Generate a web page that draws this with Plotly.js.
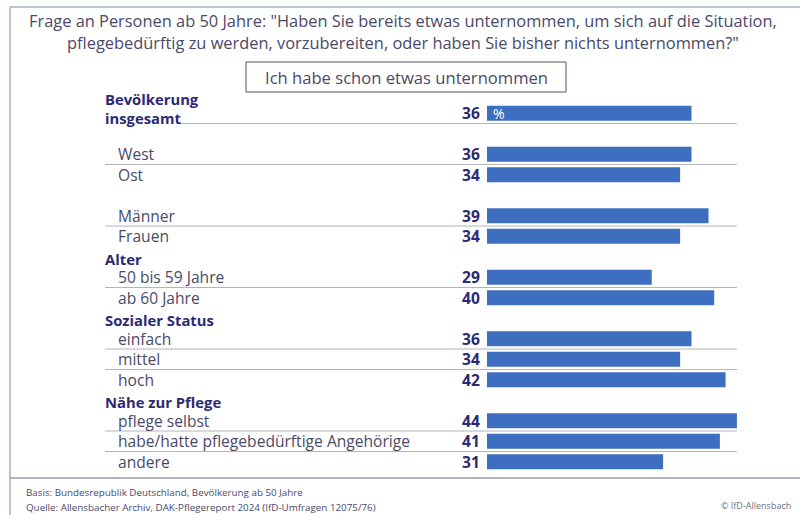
<!DOCTYPE html>
<html>
<head>
<meta charset="utf-8">
<script src="https://cdn.plot.ly/plotly-3.0.1.min.js"></script>
<style>html,body{margin:0;padding:0;background:#fff;}#chart{width:800px;height:515px;}</style>
</head>
<body>
<div id="chart"></div>
<script>
// ---- data ----
const categories = ["Bevölkerung insgesamt", "West", "Ost", "Männer", "Frauen",
  "50 bis 59 Jahre", "ab 60 Jahre", "einfach", "mittel", "hoch",
  "pflege selbst", "habe/hatte pflegebedürftige Angehörige", "andere"];
const values = [36, 36, 34, 39, 34, 29, 40, 36, 34, 42, 44, 41, 31];
const groups = ["Bevölkerung insgesamt", "Region", "Region", "Geschlecht", "Geschlecht",
  "Alter", "Alter", "Sozialer Status", "Sozialer Status", "Sozialer Status",
  "Nähe zur Pflege", "Nähe zur Pflege", "Nähe zur Pflege"];
const headedGroups = ["Alter", "Sozialer Status", "Nähe zur Pflege"];
const titleLines = ["Frage an Personen ab 50 Jahre: \"Haben Sie bereits etwas unternommen, um sich auf die Situation,",
  "pflegebedürftig zu werden, vorzubereiten, oder haben Sie bisher nichts unternommen?\""];
const seriesName = "Ich habe schon etwas unternommen";
const unitLabel = "%";
const footerLines = ["Basis: Bundesrepublik Deutschland, Bevölkerung ab 50 Jahre",
  "Quelle: Allensbacher Archiv, DAK-Pflegereport 2024 (IfD-Umfragen 12075/76)"];
const copyright = "© IfD-Allensbach";

// ---- layout helpers ----
const W = 800, Hh = 515;
const M = {l: 487, r: 29, t: 103, b: 43};
const PW = W - M.l - M.r, PH = Hh - M.t - M.b;
const px2x = px => (px - M.l) / PW;
const px2y = py => (Hh - M.b - py) / PH;

const FONT = "'Open Sans', 'DejaVu Sans', sans-serif";
const C_TEXT = "#4a4a68", C_NAVY = "#2c2a72", C_BAR = "#3d6ec0";

// build category order with spacer rows between groups
const catOrder = [];
let prev = null, blank = 0;
categories.forEach((c, i) => {
  if (prev !== null && groups[i] !== prev) {
    catOrder.push(headedGroups.includes(groups[i]) ? groups[i] : "_spacer" + (++blank));
  }
  catOrder.push(c);
  prev = groups[i];
});

const annotations = [];
const shapes = [];

// title
titleLines.forEach((t, k) => annotations.push({
  text: t, xref: "paper", yref: "paper", x: px2x(403), y: px2y(k === 0 ? 20 : 42),
  xanchor: "center", yanchor: "middle", showarrow: false, borderpad: 0,
  font: {family: FONT, size: 16.4, color: C_TEXT}
}));
// series box
shapes.push({type: "rect", xref: "paper", yref: "paper", x0: px2x(246), x1: px2x(566),
  y0: px2y(62), y1: px2y(92), line: {color: "#555560", width: 1}, fillcolor: "rgba(0,0,0,0)"});
annotations.push({text: seriesName, xref: "paper", yref: "paper", x: px2x(406), y: px2y(77),
  xanchor: "center", yanchor: "middle", showarrow: false, borderpad: 0,
  font: {family: FONT, size: 16.6, color: C_TEXT}});

// row labels, values
categories.forEach((c, i) => {
  if (i === 0) {
    annotations.push({text: "Bevölkerung<br>insgesamt", xref: "paper", yref: "y", x: px2x(104), y: c,
      yshift: 5, xanchor: "left", yanchor: "middle", align: "left", showarrow: false, borderpad: 0,
      font: {family: FONT, size: 14.8, color: C_NAVY, weight: 700}});
  } else {
    annotations.push({text: c, xref: "paper", yref: "y", x: px2x(117), y: c,
      xanchor: "left", yanchor: "middle", showarrow: false, borderpad: 0,
      font: {family: FONT, size: 15.6, color: C_TEXT}});
  }
  annotations.push({text: String(values[i]), xref: "x", yref: "y", x: 0, y: c,
    xanchor: "right", yanchor: "middle", xshift: -6, showarrow: false, borderpad: 0,
    font: {family: FONT, size: 15.6, color: C_NAVY, weight: 700}});
  // separators between rows of the same group
  if (i > 0 && groups[i] === groups[i - 1]) {
    const yb = catOrder.indexOf(c) - 0.5;
    shapes.push({type: "line", layer: "below", xref: "paper", yref: "y", x0: px2x(105), x1: px2x(737),
      y0: yb, y1: yb, line: {color: "#b4b4bc", width: 1}});
  }
});
// separator under first row
{
  const yb = catOrder.indexOf(categories[0]) + 0.5;
  shapes.push({type: "line", layer: "below", xref: "paper", yref: "y", x0: px2x(180), x1: px2x(737),
    y0: yb, y1: yb, line: {color: "#b4b4bc", width: 1}});
}
// "%" inside first bar
annotations.push({text: unitLabel, xref: "x", yref: "y", x: 0, y: categories[0],
  xanchor: "left", yanchor: "middle", xshift: 5, showarrow: false, borderpad: 0,
  font: {family: FONT, size: 14, color: "#ffffff"}});
// group headings
headedGroups.forEach(g => annotations.push({text: g, xref: "paper", yref: "y", x: px2x(104), y: g,
  yshift: -2, xanchor: "left", yanchor: "middle", showarrow: false, borderpad: 0,
  font: {family: FONT, size: 14.8, color: C_NAVY, weight: 700}}));

// footer
footerLines.forEach((t, k) => annotations.push({text: t, xref: "paper", yref: "paper",
  x: px2x(25), y: px2y(k === 0 ? 492 : 507), xanchor: "left", yanchor: "middle", showarrow: false, borderpad: 0,
  font: {family: FONT, size: 9.8, color: C_TEXT}}));
annotations.push({text: copyright, xref: "paper", yref: "paper", x: px2x(792), y: px2y(505),
  xanchor: "right", yanchor: "middle", showarrow: false, borderpad: 0,
  font: {family: FONT, size: 9, color: "#707080"}});

// frame and footer rule
shapes.push({type: "line", xref: "paper", yref: "paper", x0: px2x(10), x1: px2x(800), y0: px2y(7), y1: px2y(7),
  line: {color: "#9fb2c6", width: 1.5}});
shapes.push({type: "line", xref: "paper", yref: "paper", x0: px2x(10), x1: px2x(10), y0: px2y(7), y1: px2y(515),
  line: {color: "#9fb2c6", width: 1.5}});
shapes.push({type: "line", xref: "paper", yref: "paper", x0: px2x(10), x1: px2x(800), y0: px2y(478), y1: px2y(478),
  line: {color: "#9a9aac", width: 1.5}});

const trace = {
  type: "bar", orientation: "h", y: categories, x: values,
  marker: {color: C_BAR}, hoverinfo: "skip", showlegend: false
};

const layout = {
  width: W, height: Hh,
  margin: M,
  paper_bgcolor: "#ffffff", plot_bgcolor: "rgba(0,0,0,0)",
  bargap: 0.27,
  xaxis: {range: [0, 50], visible: false, fixedrange: true},
  yaxis: {type: "category", categoryorder: "array", categoryarray: catOrder,
    range: [catOrder.length - 0.5, -0.5], showticklabels: false, showgrid: false,
    zeroline: false, ticks: "", fixedrange: true},
  annotations: annotations,
  shapes: shapes,
  showlegend: false
};

Plotly.newPlot("chart", [trace], layout, {displayModeBar: false, staticPlot: true});
</script>
</body>
</html>
